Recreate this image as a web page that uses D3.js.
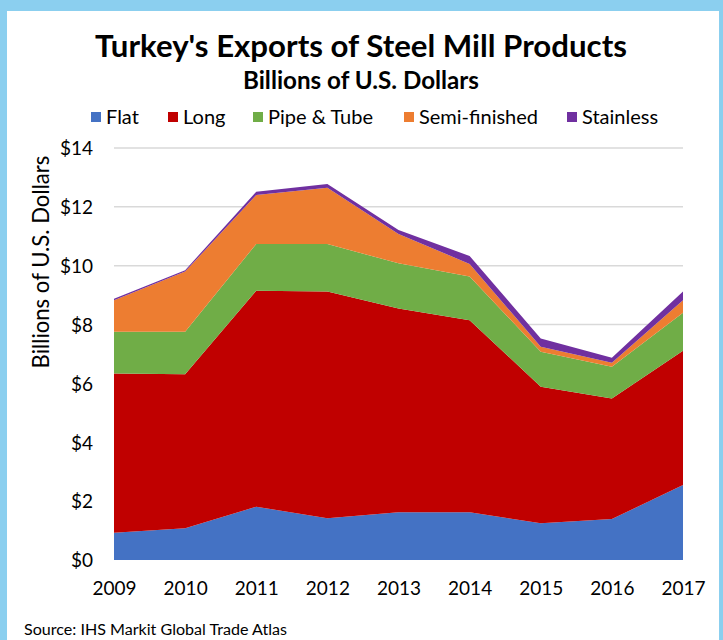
<!DOCTYPE html>
<html>
<head>
<meta charset="utf-8">
<script src="https://cdn.jsdelivr.net/npm/d3@7"></script>
<style>
  html, body { margin: 0; padding: 0; background: #8BCFEF; }
  svg { display: block; }
  text { font-family: Lato, "Open Sans", "DejaVu Sans", sans-serif; fill: #000; }
</style>
</head>
<body>
<script>
// Turkey's exports of steel mill products, billions of U.S. dollars
const years = [2009, 2010, 2011, 2012, 2013, 2014, 2015, 2016, 2017];
const flat = [0.93, 1.08, 1.81, 1.42, 1.62, 1.62, 1.25, 1.39, 2.55];
const long = [5.41, 5.23, 7.34, 7.70, 6.93, 6.53, 4.64, 4.10, 4.56];
const pipeTube = [1.42, 1.45, 1.59, 1.62, 1.53, 1.48, 1.19, 1.08, 1.29];
const semiFinished = [1.07, 2.04, 1.66, 1.91, 1.00, 0.43, 0.17, 0.13, 0.43];
const stainless = [0.05, 0.05, 0.11, 0.13, 0.13, 0.27, 0.28, 0.17, 0.29];
const seriesNames = ["Flat", "Long", "Pipe & Tube", "Semi-finished", "Stainless"];
const seriesColors = ["#4472C4", "#C00000", "#70AD47", "#ED7D31", "#7030A0"];
const yTicks = [0, 2, 4, 6, 8, 10, 12, 14];

const W = 723, H = 640;
const svg = d3.select("body").append("svg").attr("width", W).attr("height", H);

// white card inside the blue frame
svg.append("rect").attr("x", 7).attr("y", 11).attr("width", 712).attr("height", H - 11).attr("fill", "#fff");

const plot = { left: 114, right: 683, top: 148, bottom: 560 };

const x = d3.scalePoint().domain(years).range([plot.left, plot.right]);
const y = d3.scaleLinear().domain([0, 14]).range([plot.bottom, plot.top]);

// fit a text element to a target width by scaling its font size
function fitWidth(sel, target) {
  const w = sel.node().getComputedTextLength();
  const fs = parseFloat(sel.attr("font-size"));
  sel.attr("font-size", (fs * target / w).toFixed(2));
}

// gridlines
svg.append("g").selectAll("line").data(yTicks.filter(d => d > 0)).join("line")
  .attr("x1", plot.left).attr("x2", plot.right)
  .attr("y1", d => y(d)).attr("y2", d => y(d))
  .attr("stroke", "#D9D9D9").attr("stroke-width", 1.5);

// stacked areas
const rows = years.map((yr, i) => ({
  year: yr,
  "Flat": flat[i], "Long": long[i], "Pipe & Tube": pipeTube[i],
  "Semi-finished": semiFinished[i], "Stainless": stainless[i]
}));
const stacked = d3.stack().keys(seriesNames)(rows);
const area = d3.area()
  .x(d => x(d.data.year))
  .y0(d => y(d[0]))
  .y1(d => y(d[1]));
svg.append("g").selectAll("path").data(stacked).join("path")
  .attr("d", area)
  .attr("fill", (d, i) => seriesColors[i]);

// y axis labels
const yAxis = svg.append("g").attr("transform", `translate(${plot.left},0)`)
  .call(d3.axisLeft(y).tickValues(yTicks).tickFormat(d => "$" + d).tickSize(0).tickPadding(21));
yAxis.select(".domain").remove();
yAxis.selectAll("text").attr("font-size", 19).attr("font-family", "Lato, sans-serif").attr("dy", "0.36em");

// x axis labels
const xAxis = svg.append("g").attr("transform", `translate(0,${plot.bottom})`)
  .call(d3.axisBottom(x).tickFormat(d3.format("d")).tickSize(0).tickPadding(22));
xAxis.select(".domain").remove();
xAxis.selectAll("text").attr("font-size", 19).attr("font-family", "Lato, sans-serif");

// titles
const title = svg.append("text").attr("x", 361).attr("y", 57).attr("text-anchor", "middle")
  .attr("font-weight", 700).attr("font-size", 28).text("Turkey's Exports of Steel Mill Products");
fitWidth(title, 532);
const subtitle = svg.append("text").attr("x", 361).attr("y", 89).attr("text-anchor", "middle")
  .attr("font-weight", 700).attr("font-size", 20).text("Billions of U.S. Dollars");
fitWidth(subtitle, 236);

// y axis title
const yTitle = svg.append("text")
  .attr("transform", "translate(49,262) rotate(-90)")
  .attr("text-anchor", "middle").attr("font-size", 19).text("Billions of U.S. Dollars");
fitWidth(yTitle, 213);

// legend
const legendTextX = [106, 183, 268, 419, 582];
const lg = svg.append("g").selectAll("g").data(seriesNames).join("g")
  .attr("transform", (d, i) => `translate(${legendTextX[i]},0)`);
lg.append("rect").attr("x", -15).attr("y", 112).attr("width", 10).attr("height", 10)
  .attr("fill", (d, i) => seriesColors[i]);
lg.append("text").attr("x", 0).attr("y", 124).attr("font-size", 20).text(d => d);

// source note
const src = svg.append("text").attr("x", 24).attr("y", 635).attr("font-size", 14)
  .text("Source: IHS Markit Global Trade Atlas");
fitWidth(src, 263);
</script>
</body>
</html>
